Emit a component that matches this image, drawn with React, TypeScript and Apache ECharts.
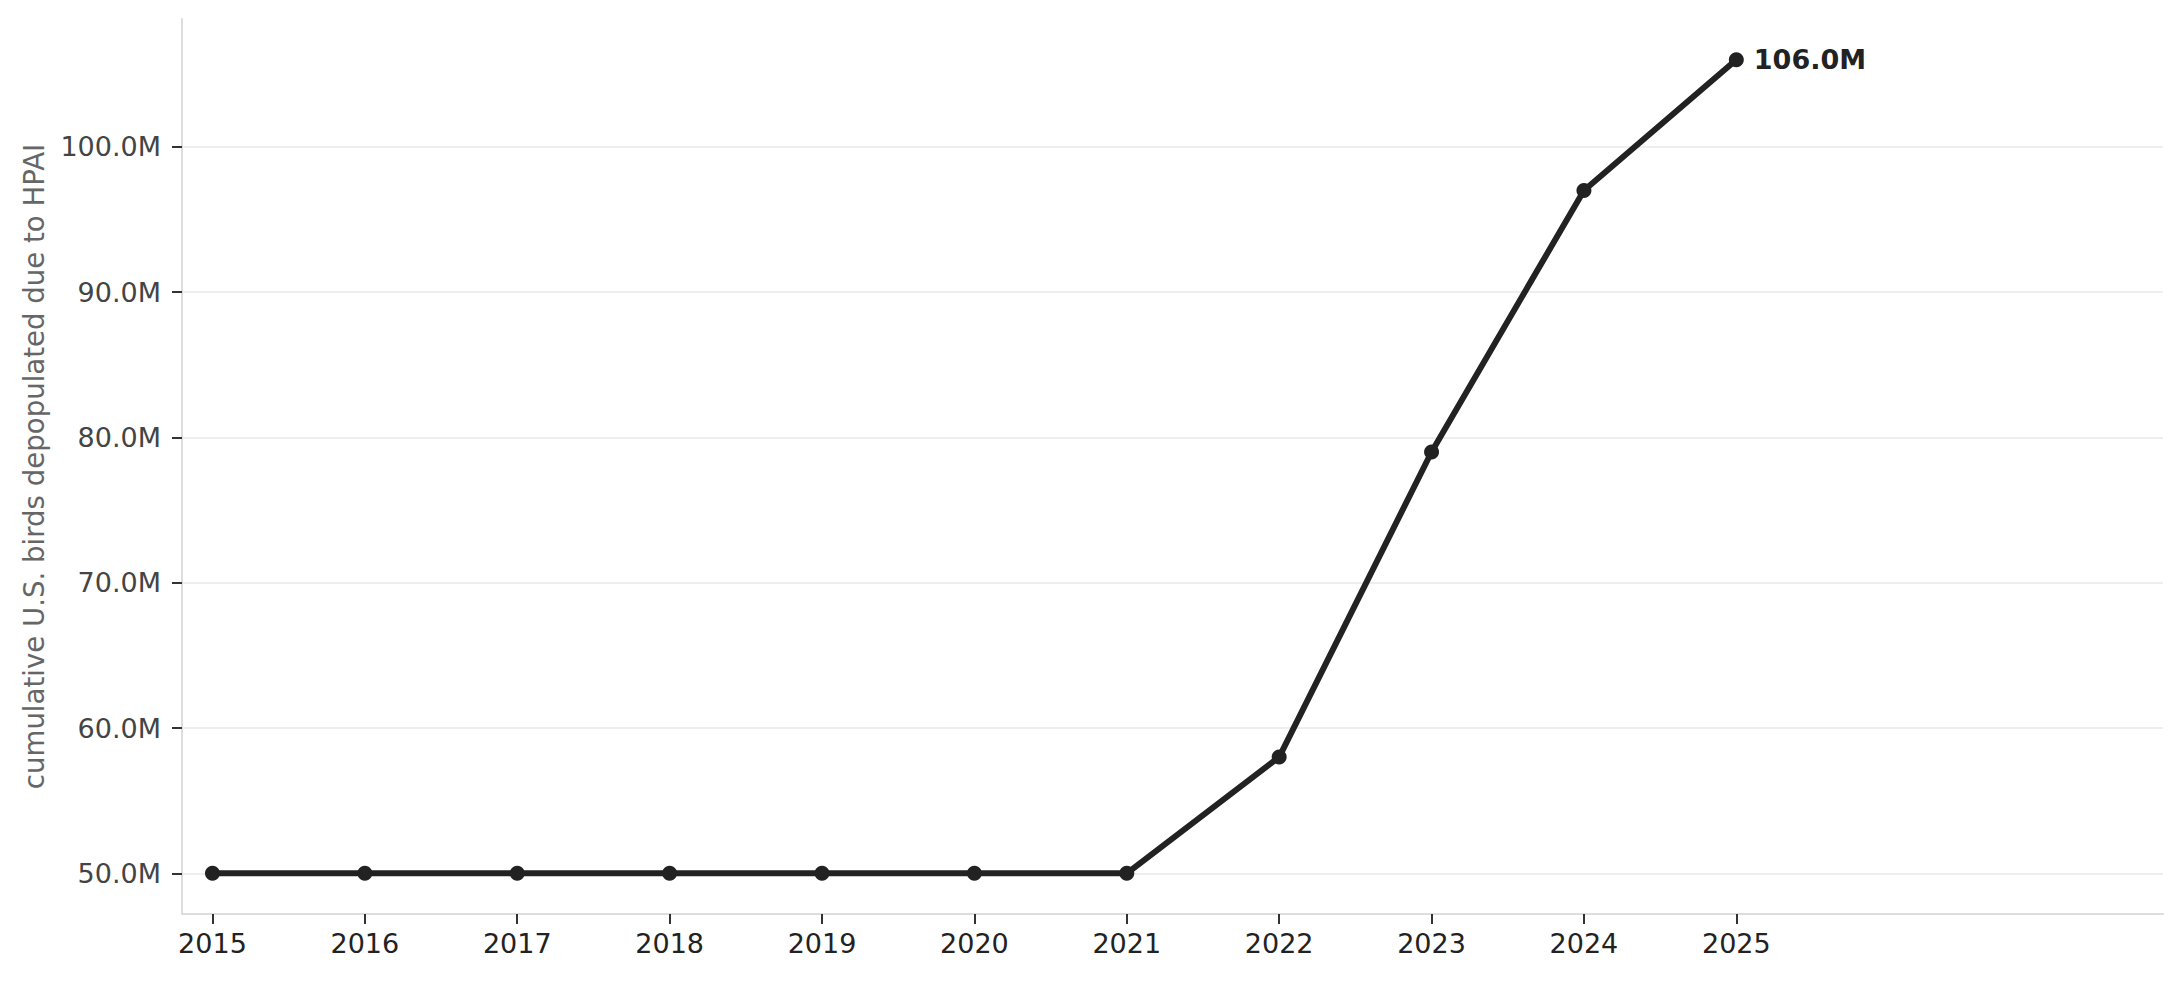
import React, { useEffect, useRef } from 'react';
import * as echarts from 'echarts';

// years on the x axis, cumulative birds depopulated (millions)
const years = [2015, 2016, 2017, 2018, 2019, 2020, 2021, 2022, 2023, 2024, 2025];
const birdsM = [50, 50, 50, 50, 50, 50, 50, 58, 79, 97, 106];
const yTicks = [50, 60, 70, 80, 90, 100];
const yName = 'cumulative U.S. birds depopulated due to HPAI';

const fmtM = (v: number) => v.toFixed(1) + 'M';

const App: React.FC = () => {
    const chartRef: any = useRef(null);

    useEffect(() => {
        document.body.style.margin = '0';
        const chart = echarts.init(chartRef.current, null, { renderer: 'svg' });
        const font = 'DejaVu Sans';
        const last = years.length - 1;
        const data = years.map((y, i) => {
            const item: any = { value: [y, birdsM[i]] };
            if (i === last) {
                item.label = {
                    show: true,
                    position: 'right',
                    distance: 10,
                    formatter: fmtM(birdsM[i]),
                    fontFamily: font,
                    fontSize: 27,
                    fontWeight: 'bold',
                    color: '#222'
                };
            }
            return item;
        });

        const option = {
            animation: false,
            backgroundColor: '#fff',
            grid: { left: 182, right: 18, top: 19, bottom: 67, containLabel: false },
            xAxis: {
                type: 'value',
                min: 2014.8,
                max: 2027.8,
                axisLine: { show: true, lineStyle: { color: '#ddd', width: 2 } },
                axisTick: { show: true, customValues: years, length: 10, lineStyle: { color: '#333', width: 2 } },
                axisLabel: {
                    customValues: years,
                    formatter: (v: number) => String(Math.round(v)),
                    fontFamily: font,
                    fontSize: 27,
                    color: '#222',
                    margin: 16
                },
                splitLine: { show: false }
            },
            yAxis: {
                type: 'value',
                min: 47.2,
                max: 108.8,
                name: yName,
                nameLocation: 'middle',
                nameGap: 134,
                nameTextStyle: { fontFamily: font, fontSize: 27.6, color: '#666' },
                axisLine: { show: true, lineStyle: { color: '#ddd', width: 2 } },
                axisTick: { show: true, customValues: yTicks, length: 10, lineStyle: { color: '#333', width: 2 } },
                axisLabel: {
                    customValues: yTicks,
                    formatter: (v: number) => fmtM(v),
                    fontFamily: font,
                    fontSize: 27,
                    color: '#444',
                    margin: 21
                },
                splitLine: { show: true, lineStyle: { color: '#eee', width: 2 } }
            },
            series: [{
                type: 'line',
                data: data,
                symbol: 'circle',
                symbolSize: 15,
                lineStyle: { color: '#222', width: 6 },
                itemStyle: { color: '#222' },
                z: 3
            }]
        };
        chart.setOption(option);
        return () => {
            chart.dispose();
        };
    }, []);

    return <div ref={chartRef} style={{ width: 2181, height: 981 }}></div>;
};

export default App;
